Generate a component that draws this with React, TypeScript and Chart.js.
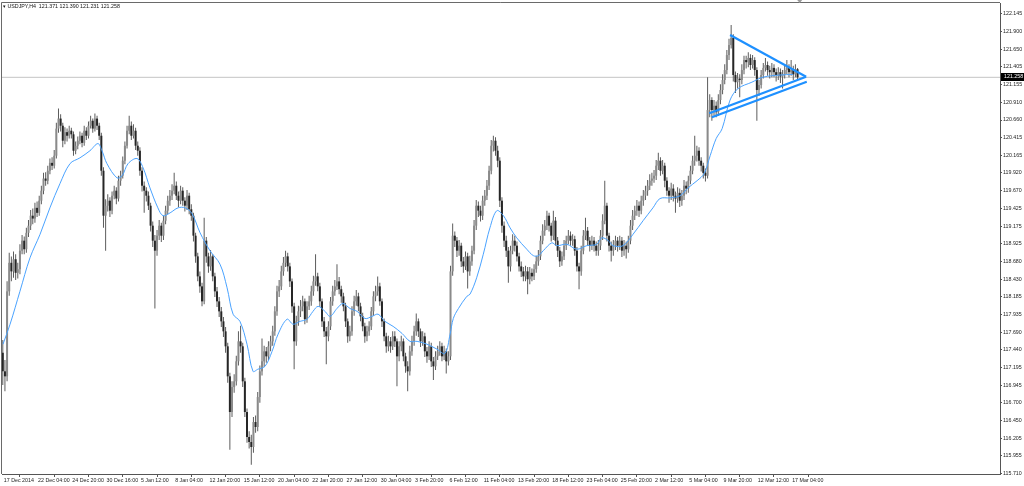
import React, { useEffect, useRef } from "react";
import { Chart, registerables } from "chart.js";

Chart.register(...registerables);

// ---- data (USDJPY H4) ----
const opens = [
  117.40,117.14,117.07,118.26,118.66,118.54,118.71,118.52,118.57,118.83,
  118.97,118.85,119.08,119.18,119.32,119.28,119.43,119.36,119.53,119.67,
  119.84,119.81,119.95,120.06,120.02,120.16,120.54,120.68,120.58,120.37,
  120.49,120.44,120.51,120.46,120.23,120.30,120.37,120.44,120.34,120.51,
  120.44,120.58,120.65,120.54,120.68,120.58,120.44,119.95,119.32,119.46,
  119.53,119.39,119.60,119.67,119.56,119.81,119.88,120.09,120.30,120.51,
  120.58,120.44,120.51,120.30,120.23,119.95,119.74,119.67,119.60,119.46,
  119.18,118.97,118.83,119.04,119.18,119.04,119.25,119.39,119.53,119.60,
  119.67,119.74,119.60,119.53,119.67,119.53,119.46,119.60,119.41,119.32,
  119.04,118.75,118.47,118.33,118.12,118.97,118.75,118.61,118.75,118.47,
  118.26,118.12,117.98,117.84,117.70,117.49,117.07,116.57,116.92,117.00,
  117.28,117.56,117.49,117.00,116.57,116.22,116.15,116.08,116.43,116.36,
  116.78,117.14,117.28,117.42,117.35,117.49,117.56,117.70,117.98,118.26,
  118.33,118.54,118.66,118.75,118.61,118.40,118.05,117.56,117.84,117.98,
  118.05,118.12,117.87,118.05,118.12,118.26,118.40,118.47,118.33,118.12,
  117.84,117.70,117.63,117.77,118.12,118.26,118.33,118.40,118.29,118.19,
  118.05,117.84,117.63,117.70,117.98,118.12,118.19,118.05,117.91,117.77,
  117.63,117.70,117.77,117.98,118.19,118.26,118.33,118.12,117.84,117.63,
  117.49,117.56,117.49,117.63,117.56,117.35,117.49,117.56,117.35,117.21,
  117.14,117.42,117.56,117.70,117.84,117.70,117.56,117.63,117.42,117.35,
  117.49,117.28,117.21,117.35,117.42,117.49,117.35,117.42,117.28,117.35,
  118.54,119.04,118.97,118.83,118.90,118.68,118.61,118.75,118.54,118.68,
  118.83,119.18,119.46,119.39,119.32,119.53,119.60,119.74,119.95,120.30,
  120.37,120.23,120.09,119.53,119.18,118.97,118.83,118.61,118.83,118.97,
  118.90,118.75,118.61,118.54,118.47,118.54,118.43,118.52,118.47,118.57,
  118.68,118.75,118.97,119.11,119.18,119.32,119.18,119.04,119.25,118.97,
  118.83,118.68,118.75,118.90,118.97,119.04,118.97,118.99,118.83,118.61,
  118.54,118.83,119.04,119.11,118.97,118.90,118.97,118.90,118.83,118.90,
  119.04,119.25,119.46,119.04,118.90,118.83,118.90,118.97,118.90,118.97,
  118.83,118.90,118.85,118.97,119.18,119.32,119.39,119.46,119.39,119.53,
  119.60,119.67,119.74,119.81,119.84,119.88,120.02,120.09,119.95,120.02,
  119.81,119.67,119.60,119.70,119.60,119.56,119.64,119.53,119.60,119.74,
  119.70,119.81,119.95,120.09,120.16,120.23,120.09,120.02,119.92,119.88,
  120.80,120.94,120.80,120.86,120.77,120.94,121.08,121.22,121.36,121.57,
  121.71,121.81,121.29,121.19,121.24,121.22,121.36,121.50,121.47,121.53,
  121.43,121.50,121.36,121.08,121.15,121.29,121.39,121.43,121.36,121.33,
  121.39,121.33,121.29,121.33,121.27,121.30,121.36,121.39,121.33,121.36,
  121.30,121.371,
];

const highs = [
  117.58,117.30,118.40,118.80,118.75,118.82,118.78,118.66,118.92,119.05,
  119.03,119.15,119.26,119.40,119.42,119.50,119.52,119.60,119.74,119.92,
  119.93,120.02,120.12,120.14,120.24,120.62,120.82,120.74,120.62,120.56,
  120.54,120.58,120.55,120.50,120.36,120.43,120.50,120.48,120.58,120.56,
  120.64,120.72,120.68,120.75,120.72,120.62,120.48,120.00,119.55,119.62,
  119.58,119.66,119.74,119.72,119.88,119.95,120.15,120.36,120.58,120.72,
  120.64,120.60,120.55,120.36,120.28,120.00,119.80,119.72,119.66,119.50,
  119.24,119.05,119.12,119.26,119.22,119.32,119.46,119.60,119.68,119.76,
  119.92,119.80,119.66,119.74,119.72,119.58,119.68,119.64,119.48,119.36,
  119.08,118.80,118.54,118.38,119.29,119.02,118.80,118.84,118.78,118.52,
  118.32,118.18,118.04,117.90,117.76,117.54,117.12,117.00,117.10,117.36,
  117.70,117.78,117.54,117.05,116.62,116.30,116.25,116.50,116.52,116.85,
  117.22,117.60,117.50,117.48,117.56,117.64,117.78,118.05,118.34,118.42,
  118.62,118.74,118.83,118.80,118.66,118.44,118.10,117.92,118.06,118.14,
  118.20,118.16,118.12,118.20,118.34,118.48,118.78,118.52,118.38,118.16,
  117.90,117.76,117.84,118.18,118.34,118.42,118.64,118.46,118.34,118.24,
  118.10,117.88,117.78,118.05,118.20,118.28,118.24,118.10,117.96,117.82,
  117.78,117.84,118.04,118.26,118.34,118.47,118.38,118.16,117.88,117.68,
  117.64,117.62,117.70,117.70,117.60,117.56,117.64,117.60,117.40,117.28,
  117.50,117.64,117.78,117.95,117.88,117.74,117.70,117.68,117.48,117.56,
  117.54,117.34,117.42,117.50,117.56,117.54,117.50,117.46,117.42,118.62,
  119.21,119.10,119.02,118.98,118.94,118.74,118.82,118.80,118.76,118.90,
  119.26,119.54,119.52,119.46,119.60,119.68,119.82,120.02,120.38,120.44,
  120.42,120.30,120.14,119.58,119.24,119.04,118.88,118.90,119.06,119.04,
  118.96,118.80,118.68,118.60,118.62,118.60,118.60,118.58,118.64,118.76,
  118.84,119.04,119.20,119.26,119.39,119.36,119.22,119.39,119.30,119.02,
  118.88,118.82,118.98,119.04,119.12,119.10,119.06,119.04,118.88,118.66,
  118.90,119.12,119.29,119.16,119.02,119.04,119.02,118.96,118.98,119.12,
  119.34,119.81,119.50,119.08,118.96,118.98,119.04,119.02,119.04,119.02,
  118.98,118.96,119.04,119.26,119.40,119.46,119.54,119.52,119.60,119.68,
  119.74,119.82,119.90,119.92,119.96,120.10,120.20,120.14,120.10,120.06,
  119.86,119.72,119.78,119.76,119.66,119.72,119.70,119.68,119.82,119.80,
  119.88,120.02,120.16,120.44,120.30,120.28,120.14,120.06,119.98,121.26,
  121.02,120.98,120.94,120.92,121.02,121.16,121.30,121.44,121.64,121.80,
  121.99,121.86,121.34,121.32,121.30,121.44,121.56,121.56,121.61,121.58,
  121.57,121.54,121.40,121.22,121.36,121.46,121.53,121.48,121.42,121.46,
  121.44,121.38,121.40,121.38,121.36,121.44,121.50,121.44,121.50,121.42,
  121.44,121.39,
];

const lows = [
  116.95,116.86,117.00,118.20,118.40,118.45,118.42,118.44,118.50,118.78,
  118.78,118.80,119.02,119.12,119.20,119.22,119.30,119.32,119.48,119.62,
  119.74,119.76,119.90,119.96,119.98,120.12,120.48,120.50,120.28,120.32,
  120.36,120.40,120.40,120.16,120.18,120.25,120.32,120.28,120.30,120.38,
  120.40,120.54,120.48,120.50,120.52,120.38,119.88,119.15,118.83,119.38,
  119.30,119.34,119.55,119.48,119.52,119.74,119.84,120.04,120.26,120.46,
  120.38,120.40,120.24,120.16,119.88,119.66,119.36,119.52,119.40,119.10,
  118.88,118.02,118.76,118.98,118.95,118.98,119.20,119.34,119.46,119.54,
  119.62,119.54,119.44,119.48,119.46,119.38,119.40,119.34,119.25,118.96,
  118.66,118.40,118.24,118.05,118.08,118.66,118.52,118.55,118.40,118.18,
  118.04,117.90,117.76,117.62,117.40,116.98,116.04,116.50,116.84,116.94,
  117.22,117.40,116.92,116.50,116.14,116.06,115.83,116.00,116.28,116.30,
  116.70,117.08,117.20,117.26,117.30,117.42,117.50,117.64,117.92,118.18,
  118.28,118.48,118.60,118.54,118.32,117.96,117.17,117.50,117.78,117.90,
  117.98,117.80,117.82,118.00,118.06,118.20,118.34,118.26,118.04,117.76,
  117.62,117.24,117.56,117.72,118.06,118.20,118.28,118.22,118.10,117.98,
  117.76,117.54,117.56,117.64,117.92,118.06,117.98,117.84,117.70,117.54,
  117.56,117.64,117.72,117.92,118.12,118.20,118.06,117.76,117.56,117.40,
  117.42,117.40,117.44,117.48,116.93,117.28,117.42,117.28,117.12,116.86,
  117.08,117.36,117.50,117.64,117.62,117.48,117.50,117.34,117.26,117.30,
  117.20,117.02,117.16,117.30,117.36,117.28,117.30,117.11,117.22,117.30,
  118.48,118.88,118.74,118.76,118.60,118.52,118.56,118.30,118.48,118.62,
  118.78,119.12,119.30,119.24,119.26,119.46,119.54,119.68,119.90,120.22,
  120.16,120.00,119.44,119.08,118.88,118.74,118.38,118.54,118.78,118.82,
  118.68,118.54,118.46,118.40,118.40,118.22,118.36,118.40,118.42,118.52,
  118.62,118.70,118.92,119.04,119.12,119.10,118.96,118.98,118.90,118.74,
  118.60,118.62,118.70,118.84,118.92,118.90,118.90,118.76,118.54,118.29,
  118.48,118.78,118.98,118.90,118.82,118.84,118.82,118.76,118.76,118.84,
  118.98,119.20,118.96,118.82,118.68,118.76,118.84,118.82,118.84,118.74,
  118.76,118.72,118.80,118.92,119.12,119.26,119.32,119.30,119.34,119.46,
  119.54,119.60,119.68,119.74,119.78,119.82,119.96,119.88,119.90,119.72,
  119.60,119.50,119.54,119.52,119.36,119.50,119.44,119.46,119.54,119.62,
  119.64,119.76,119.90,120.02,120.08,120.02,119.94,119.84,119.80,119.84,
  120.70,120.65,120.72,120.70,120.72,120.88,121.02,121.16,121.30,121.50,
  121.66,121.20,121.04,121.10,120.98,121.16,121.30,121.38,121.40,121.36,
  121.38,121.28,120.65,121.00,121.10,121.24,121.34,121.28,121.24,121.26,
  121.26,121.20,121.22,121.18,121.10,121.24,121.30,121.26,121.28,121.22,
  121.26,121.231,
];

const closes = [
  117.14,117.07,118.26,118.66,118.54,118.71,118.52,118.57,118.83,118.97,
  118.85,119.08,119.18,119.32,119.28,119.43,119.36,119.53,119.67,119.84,
  119.81,119.95,120.06,120.02,120.16,120.54,120.68,120.58,120.37,120.49,
  120.44,120.51,120.46,120.23,120.30,120.37,120.44,120.34,120.51,120.44,
  120.58,120.65,120.54,120.68,120.58,120.44,119.95,119.32,119.46,119.53,
  119.39,119.60,119.67,119.56,119.81,119.88,120.09,120.30,120.51,120.58,
  120.44,120.51,120.30,120.23,119.95,119.74,119.67,119.60,119.46,119.18,
  118.97,118.83,119.04,119.18,119.04,119.25,119.39,119.53,119.60,119.67,
  119.74,119.60,119.53,119.67,119.53,119.46,119.60,119.41,119.32,119.04,
  118.75,118.47,118.33,118.12,118.97,118.75,118.61,118.75,118.47,118.26,
  118.12,117.98,117.84,117.70,117.49,117.07,116.57,116.92,117.00,117.28,
  117.56,117.49,117.00,116.57,116.22,116.15,116.08,116.43,116.36,116.78,
  117.14,117.28,117.42,117.35,117.49,117.56,117.70,117.98,118.26,118.33,
  118.54,118.66,118.75,118.61,118.40,118.05,117.56,117.84,117.98,118.05,
  118.12,117.87,118.05,118.12,118.26,118.40,118.47,118.33,118.12,117.84,
  117.70,117.63,117.77,118.12,118.26,118.33,118.40,118.29,118.19,118.05,
  117.84,117.63,117.70,117.98,118.12,118.19,118.05,117.91,117.77,117.63,
  117.70,117.77,117.98,118.19,118.26,118.33,118.12,117.84,117.63,117.49,
  117.56,117.49,117.63,117.56,117.35,117.49,117.56,117.35,117.21,117.14,
  117.42,117.56,117.70,117.84,117.70,117.56,117.63,117.42,117.35,117.49,
  117.28,117.21,117.35,117.42,117.49,117.35,117.42,117.28,117.35,118.54,
  119.04,118.97,118.83,118.90,118.68,118.61,118.75,118.54,118.68,118.83,
  119.18,119.46,119.39,119.32,119.53,119.60,119.74,119.95,120.30,120.37,
  120.23,120.09,119.53,119.18,118.97,118.83,118.61,118.83,118.97,118.90,
  118.75,118.61,118.54,118.47,118.54,118.43,118.52,118.47,118.57,118.68,
  118.75,118.97,119.11,119.18,119.32,119.18,119.04,119.25,118.97,118.83,
  118.68,118.75,118.90,118.97,119.04,118.97,118.99,118.83,118.61,118.54,
  118.83,119.04,119.11,118.97,118.90,118.97,118.90,118.83,118.90,119.04,
  119.25,119.46,119.04,118.90,118.83,118.90,118.97,118.90,118.97,118.83,
  118.90,118.85,118.97,119.18,119.32,119.39,119.46,119.39,119.53,119.60,
  119.67,119.74,119.81,119.84,119.88,120.02,120.09,119.95,120.02,119.81,
  119.67,119.60,119.70,119.60,119.56,119.64,119.53,119.60,119.74,119.70,
  119.81,119.95,120.09,120.16,120.23,120.09,120.02,119.92,119.88,120.80,
  120.94,120.80,120.86,120.77,120.94,121.08,121.22,121.36,121.57,121.71,
  121.81,121.29,121.19,121.24,121.22,121.36,121.50,121.47,121.53,121.43,
  121.50,121.36,121.08,121.15,121.29,121.39,121.43,121.36,121.33,121.39,
  121.33,121.29,121.33,121.27,121.30,121.36,121.39,121.33,121.36,121.30,
  121.371,121.258,
];

// moving average (bar position, price)
const maIndex = [
  0.1,3.4,8.0,12.7,17.4,22.0,26.7,31.4,36.0,40.7,44.4,46.3,48.6,53.3,55.7,58.5,62.7,65.5,68.7,72.4,
  74.8,78.1,81.8,85.1,88.3,92.1,96.7,101.4,104.7,107.5,110.7,114.0,116.8,119.1,122.4,125.7,128.5,132.7,135.5,138.8,
  142.0,144.8,147.2,150.4,152.8,156.0,158.8,162.1,165.4,169.1,172.4,175.2,178.4,182.2,186.4,190.1,193.4,198.0,202.7,206.4,
  208.8,210.3,212.7,216.6,218.1,221.2,224.3,227.4,230.6,233.7,236.8,239.9,244.6,247.7,250.0,252.3,256.3,258.6,263.3,267.9,
  272.6,277.3,279.6,282.7,284.9,289.5,294.2,298.9,303.5,306.8,311.5,316.2,319.9,324.1,327.4,330.2,333.0,335.8,339.5,343.2,
  349.7,354.9,362.8,368.9,
];
const maValues = [
  117.52,117.80,118.26,118.73,119.06,119.43,119.77,120.05,120.13,120.23,120.33,120.23,120.05,119.85,119.88,120.05,120.12,119.99,119.71,119.43,
  119.32,119.36,119.43,119.43,119.35,119.08,118.83,118.64,118.31,117.94,117.84,117.52,117.14,117.17,117.21,117.42,117.66,117.87,117.80,117.84,
  117.87,117.98,118.05,117.98,117.91,118.02,118.09,118.02,117.98,117.88,117.91,117.94,117.84,117.77,117.67,117.56,117.56,117.52,117.45,117.39,
  117.66,117.88,118.02,118.19,118.22,118.45,118.78,119.15,119.39,119.32,119.15,119.01,118.85,118.76,118.76,118.83,118.94,118.90,118.92,118.85,
  118.90,118.92,119.01,118.97,118.90,118.90,119.06,119.25,119.43,119.56,119.57,119.60,119.71,119.81,119.91,120.16,120.40,120.54,120.94,121.10,
  121.19,121.26,121.29,121.30,
];

// drawn triangle (bar position, price)
const trendTopX = [339.5, 375.0];
const trendTopY = [121.851, 121.267];
const trendMidX = [329.8, 375.0];
const trendMidY = [120.754, 121.267];
const trendLowX = [331.0, 375.3];
const trendLowY = [120.698, 121.197];

const timeLabels = [
  "17 Dec 2014","22 Dec 04:00","24 Dec 20:00","30 Dec 16:00","5 Jan 12:00","8 Jan 04:00",
  "12 Jan 20:00","15 Jan 12:00","20 Jan 04:00","22 Jan 20:00","27 Jan 12:00","30 Jan 04:00",
  "3 Feb 20:00","6 Feb 12:00","11 Feb 04:00","13 Feb 20:00","18 Feb 12:00","23 Feb 04:00",
  "25 Feb 20:00","2 Mar 12:00","5 Mar 04:00","9 Mar 20:00","12 Mar 12:00","17 Mar 04:00",
];
const barsPerLabel = 16;

const priceTicks = [
  122.145,121.900,121.650,121.405,121.155,120.910,120.660,120.415,120.165,119.920,
  119.670,119.425,119.175,118.925,118.680,118.430,118.185,117.935,117.690,117.440,
  117.195,116.945,116.700,116.450,116.205,115.955,115.710,
];

const headerText = "USDJPY,H4  121.371 121.390 121.231 121.258";

const BULL = "#8a8a8a";
const BEAR = "#262626";
const WICK = "#5c5c5c";
const TL_COLOR = "#1e90ff";
const MA_COLOR = "#4aa3ff";
const FONT = "Liberation Sans";

export default function App() {
  const ref = useRef<HTMLCanvasElement | null>(null);

  useEffect(() => {
    document.body.style.margin = "0";
    const canvas = ref.current;
    if (!canvas) return;
    const last = closes[closes.length - 1];

    const bodyData = closes.map((c, i) => ({ x: i, y: [opens[i], c] }));
    const wickData = closes.map((_, i) => ({ x: i, y: [lows[i], highs[i]] }));
    const bodyColors = closes.map((c, i) => (c >= opens[i] ? BULL : BEAR));
    const maData = maIndex.map((x, i) => ({ x, y: maValues[i] }));
    const toPts = (xs: number[], ys: number[]) => xs.map((x, i) => ({ x, y: ys[i] }));

    const decor = {
      id: "decor",
      beforeDraw(chart: any) {
        const c = chart.ctx;
        c.save();
        c.fillStyle = "#ffffff";
        c.fillRect(0, 0, chart.width, chart.height);
        c.restore();
      },
      afterDraw(chart: any) {
        const c = chart.ctx;
        const { left, top, right, bottom } = chart.chartArea;
        const xs = chart.scales.x;
        const ys = chart.scales.y;
        c.save();
        c.strokeStyle = "#6a6a6a";
        c.lineWidth = 1;
        c.beginPath();
        c.moveTo(left - 0.5, top - 0.5);
        c.lineTo(right, top - 0.5);
        c.moveTo(left - 0.5, top - 0.5);
        c.lineTo(left - 0.5, bottom);
        c.stroke();
        // bid label
        const yp = ys.getPixelForValue(last);
        c.fillStyle = "#000000";
        c.fillRect(right + 1, Math.round(yp) - 4, 24, 8);
        c.fillStyle = "#ffffff";
        c.font = `5.3px "${FONT}"`;
        c.textBaseline = "middle";
        c.textAlign = "left";
        c.fillText(last.toFixed(3), right + 4, Math.round(yp));
        // chart shift marker
        const sx = xs.getPixelForValue(closes.length);
        c.fillStyle = "#9a9a9a";
        c.beginPath();
        c.moveTo(sx - 2.5, 0);
        c.lineTo(sx + 2.5, 0);
        c.lineTo(sx, 3);
        c.closePath();
        c.fill();
        c.restore();
      },
    };

    const chart = new Chart(canvas, {
      type: "bar",
      data: {
        datasets: [
          { type: "line", data: toPts(trendTopX, trendTopY), borderColor: TL_COLOR, borderWidth: 2.2, pointRadius: 0, order: 0 } as any,
          { type: "line", data: toPts(trendMidX, trendMidY), borderColor: TL_COLOR, borderWidth: 2.2, pointRadius: 0, order: 0 } as any,
          { type: "line", data: toPts(trendLowX, trendLowY), borderColor: TL_COLOR, borderWidth: 2.2, pointRadius: 0, order: 0 } as any,
          { type: "line", data: maData, borderColor: MA_COLOR, borderWidth: 1, pointRadius: 0, tension: 0.35, order: 1 } as any,
          {
            type: "bar", data: bodyData as any, backgroundColor: bodyColors, barThickness: 2,
            grouped: false, minBarLength: 1, borderWidth: 0, inflateAmount: 0, order: 2,
          } as any,
          {
            type: "bar", data: wickData as any, backgroundColor: WICK, barThickness: 1,
            grouped: false, borderWidth: 0, inflateAmount: 0, order: 3,
          } as any,
          {
            type: "line", data: [{ x: -5, y: last }, { x: 480, y: last }],
            borderColor: "#c4c4c4", borderWidth: 1, pointRadius: 0, order: 9,
          } as any,
        ],
      },
      options: {
        responsive: false,
        animation: false,
        devicePixelRatio: 1,
        events: [],
        layout: { padding: { left: 2, top: 3, right: 0, bottom: 0 } },
        plugins: { legend: { display: false }, tooltip: { enabled: false } },
        scales: {
          x: {
            type: "linear",
            min: -0.37,
            max: 465.5,
            offset: false,
            afterBuildTicks: (s: any) => {
              s.ticks = timeLabels.map((_, k) => ({ value: k * barsPerLabel }));
            },
            afterFit: (s: any) => {
              s.height = 12;
              s.paddingLeft = 0;
              s.paddingRight = 0;
            },
            ticks: {
              autoSkip: false,
              maxRotation: 0,
              minRotation: 0,
              align: "start",
              labelOffset: 1,
              padding: 0,
              color: "#222222",
              font: { family: FONT, size: 5.3 },
              callback: (v: any) => timeLabels[Math.round(Number(v) / barsPerLabel)] ?? "",
            },
            grid: { drawOnChartArea: false, drawTicks: true, tickLength: 3, color: "#555555" },
            border: { display: true, color: "#555555" },
          },
          y: {
            type: "linear",
            position: "right",
            min: 115.702,
            max: 122.299,
            afterBuildTicks: (s: any) => {
              s.ticks = priceTicks.map((v) => ({ value: v }));
            },
            afterFit: (s: any) => {
              s.width = 24;
              s.paddingTop = 0;
              s.paddingBottom = 0;
            },
            ticks: {
              autoSkip: false,
              padding: 1,
              color: "#222222",
              font: { family: FONT, size: 5.3 },
              callback: (v: any) => Number(v).toFixed(3),
            },
            grid: { drawOnChartArea: false, drawTicks: true, tickLength: 2, color: "#555555" },
            border: { display: true, color: "#555555" },
          },
        },
      } as any,
      plugins: [decor as any],
    });
    return () => chart.destroy();
  }, []);

  return (
    <div style={{ position: "fixed", left: 0, top: 0, width: 1024, height: 486, background: "#fff", overflow: "hidden" }}>
      <canvas ref={ref} width={1024} height={486} style={{ display: "block", width: 1024, height: 486 }} />
      <div
        style={{
          position: "absolute", left: 3, top: 3, fontFamily: FONT, fontSize: "5.3px",
          lineHeight: "6px", color: "#111", whiteSpace: "pre",
        }}
      >
        {"▾ " + headerText}
      </div>
    </div>
  );
}
